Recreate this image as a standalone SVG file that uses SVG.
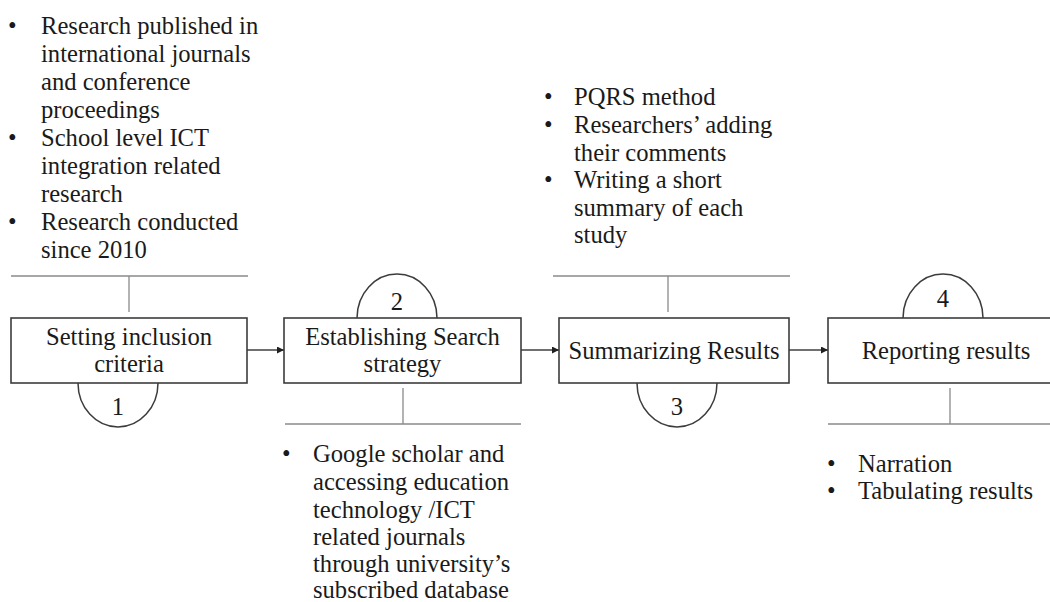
<svg xmlns="http://www.w3.org/2000/svg" width="1050" height="602" viewBox="0 0 1050 602">
<style>
text{font-family:"Liberation Serif","Times New Roman",serif;fill:#1a1a1a;font-size:24.6px}
.c{text-anchor:middle}
.box{fill:#fff;stroke:#3c3c3c;stroke-width:1.6}
.semi{fill:#fff;stroke:#3c3c3c;stroke-width:1.5}
.br{stroke:#8a8a8a;stroke-width:1.3;fill:none}
.ar{stroke:#404040;stroke-width:1.3;fill:none;marker-end:url(#ah)}
</style>
<defs>
<marker id="ah" viewBox="0 0 10 10" refX="10" refY="5" markerWidth="7" markerHeight="7" markerUnits="userSpaceOnUse" orient="auto">
<path d="M0,0 L10,5 L0,10 z" fill="#202020"/>
</marker>
</defs>
<g id="connectors">
<line class="ar" x1="247" y1="350" x2="284" y2="350"/>
<line class="ar" x1="521" y1="350" x2="559" y2="350"/>
<line class="ar" x1="789" y1="350" x2="828" y2="350"/>
<path class="br" d="M11,276 H248 M129,276 V312"/>
<path class="br" d="M285,424 H521 M403,388 V424"/>
<path class="br" d="M553,276 H790 M668,276 V312"/>
<path class="br" d="M828,424 H1052 M950,388 V424"/>
</g>
<g id="node1">
<path class="semi" d="M78,383 A40,44 0 0 0 158,383"/>
<rect class="box" x="11" y="318" width="236" height="65"/>
<text class="c" x="129" y="345">Setting inclusion</text>
<text class="c" x="129" y="372">criteria</text>
<text class="c" x="118" y="415">1</text>
</g>
<g id="node2">
<path class="semi" d="M357,318 A40,44 0 0 1 437,318"/>
<rect class="box" x="284" y="318" width="237" height="65"/>
<text class="c" x="402.5" y="345">Establishing Search</text>
<text class="c" x="402.5" y="372">strategy</text>
<text class="c" x="397" y="310">2</text>
</g>
<g id="node3">
<path class="semi" d="M637,383 A40,44 0 0 0 717,383"/>
<rect class="box" x="559" y="318" width="230" height="65"/>
<text class="c" x="674" y="359">Summarizing Results</text>
<text class="c" x="677" y="415">3</text>
</g>
<g id="node4">
<path class="semi" d="M903,318 A40,44 0 0 1 983,318"/>
<rect class="box" x="828" y="318" width="236" height="65"/>
<text class="c" x="946" y="359">Reporting results</text>
<text class="c" x="943" y="307">4</text>
</g>
<g id="notes1">
<text x="8" y="34">•</text>
<text x="41" y="34">Research published in</text>
<text x="41" y="62">international journals</text>
<text x="41" y="90">and conference</text>
<text x="41" y="118">proceedings</text>
<text x="8" y="146">•</text>
<text x="41" y="146">School level ICT</text>
<text x="41" y="174">integration related</text>
<text x="41" y="202">research</text>
<text x="8" y="230">•</text>
<text x="41" y="230">Research conducted</text>
<text x="41" y="258">since 2010</text>
</g>
<g id="notes2">
<text x="282" y="462">•</text>
<text x="313" y="462">Google scholar and</text>
<text x="313" y="490">accessing education</text>
<text x="313" y="518">technology /ICT</text>
<text x="313" y="545">related journals</text>
<text x="313" y="572">through university’s</text>
<text x="313" y="598">subscribed database</text>
</g>
<g id="notes3">
<text x="544" y="105">•</text>
<text x="574" y="105">PQRS method</text>
<text x="544" y="133">•</text>
<text x="574" y="133">Researchers’ adding</text>
<text x="574" y="161">their comments</text>
<text x="544" y="188">•</text>
<text x="574" y="188">Writing a short</text>
<text x="574" y="216">summary of each</text>
<text x="574" y="243">study</text>
</g>
<g id="notes4">
<text x="827" y="472">•</text>
<text x="858" y="472">Narration</text>
<text x="827" y="499">•</text>
<text x="858" y="499">Tabulating results</text>
</g>
</svg>
